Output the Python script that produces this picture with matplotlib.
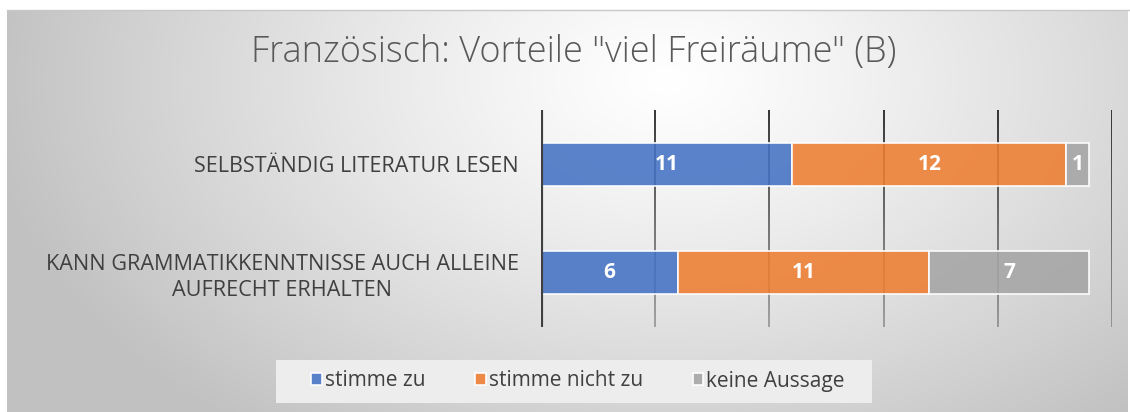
"""Französisch – Vorteile "viel Freiräume" (B), gestapelte Balken"""

import numpy as np
import matplotlib
matplotlib.use('Agg')
import matplotlib.pyplot as plt
from matplotlib.collections import LineCollection
from matplotlib.patches import Rectangle

plt.rcParams['font.family'] = ['Open Sans', 'DejaVu Sans']

# ========== Daten ==========
kategorien = ['SELBSTÄNDIG LITERATUR LESEN',
              'KANN GRAMMATIKKENNTNISSE AUCH ALLEINE\nAUFRECHT ERHALTEN']
serien = ['stimme zu', 'stimme nicht zu', 'keine Aussage']
stimme_zu = [11, 6]
stimme_nicht_zu = [12, 11]
keine_aussage = [1, 7]
farben = ['#4472C4', '#ED7D31', '#A5A5A5']
titel = 'Französisch: Vorteile "viel Freiräume" (B)'
x_ticks = [0, 5, 10, 15, 20, 25]

W, H = 1130, 412
fig = plt.figure(figsize=(W / 100, H / 100), dpi=100)
fig.patch.set_facecolor('white')

# ========== Hintergrund (radialer Verlauf) ==========
bg = fig.add_axes([7 / W, 0, (W - 9) / W, (H - 10) / H], zorder=0)
yy, xx = np.mgrid[0:H - 10, 0:W - 9]
cx, cy = 660, 70
d = np.sqrt(((xx - cx) / 680) ** 2 + ((yy - cy) / 440) ** 2)
d = np.clip(d, 0, 1)
val = 1.0 - 0.24 * d ** 1.2
bg.imshow(np.dstack([val, val, val]), aspect='auto', interpolation='bilinear')
bg.axis('off')
# feiner Rahmen oben
fig.add_artist(plt.Line2D([7 / W, 1], [(H - 10) / H] * 2, color='#c8c8c8', lw=1))

# ========== Diagramm ==========
x0, x1 = 541, 1112
y_top, y_bot = 110, 327
ax = fig.add_axes([x0 / W, 1 - y_bot / H, (x1 - x0) / W, (y_bot - y_top) / H], zorder=2)
ax.patch.set_alpha(0)

ypos = np.arange(len(kategorien))
werte = [stimme_zu, stimme_nicht_zu, keine_aussage]
links = np.zeros(len(kategorien))

# Gitterlinien mit Verlauf (oben hell, unten dunkel)
n_seg = 60
ys = np.linspace(1.5, -0.5, n_seg + 1)
for xt in x_ticks[1:]:
    segs = [[(xt, ys[i]), (xt, ys[i + 1])] for i in range(n_seg)]
    t = np.linspace(0, 1, n_seg)
    cols = [(0.1, 0.1, 0.1, 0.35 + 0.6 * ti) for ti in t]
    ax.add_collection(LineCollection(segs, colors=cols, linewidths=1.3, zorder=1))

for werte_s, farbe, name in zip(werte, farben, serien):
    ax.barh(ypos, werte_s, left=links, height=0.4, color=farbe, alpha=0.88,
            edgecolor=(1, 1, 1, 0.6), linewidth=1.3, label=name, zorder=3)
    for yi, (l, w) in enumerate(zip(links, werte_s)):
        ax.text(l + w / 2, yi, str(w), color='white', fontsize=15, fontweight='bold',
                ha='center', va='center', zorder=4)
    links = links + np.array(werte_s)

ax.set_xlim(0, 25)
ax.set_ylim(1.5, -0.5)
ax.axvline(0, color='#404040', lw=3, zorder=5)
for s in ax.spines.values():
    s.set_visible(False)
ax.set_xticks([])
ax.set_yticks(ypos)
ax.set_yticklabels(kategorien, fontsize=15.6, color='#404040', multialignment='center',
                   linespacing=1.3)
ax.tick_params(axis='y', length=0, pad=16)

fig.text(0.508, 1 - 52 / H, titel, fontsize=26, color='#595959', fontweight='light',
         ha='center', va='center')

# ========== Legende ==========
leg_ax = fig.add_axes([276 / W, 1 - 403 / H, (872 - 276) / W, 43 / H], zorder=1)
leg_ax.add_patch(Rectangle((0, 0), 1, 1, transform=leg_ax.transAxes,
                           facecolor='#ededed', edgecolor='none'))
leg_ax.axis('off')
handles, labels = ax.get_legend_handles_labels()
leg = fig.legend(handles, labels, loc='center', bbox_to_anchor=(578 / W, 1 - 381 / H),
                 ncol=3, frameon=False, fontsize=15, handlelength=0.5, handleheight=0.5,
                 handletextpad=0.15, columnspacing=2.4, labelcolor='#404040')

fig.savefig('out.png', dpi=100)
